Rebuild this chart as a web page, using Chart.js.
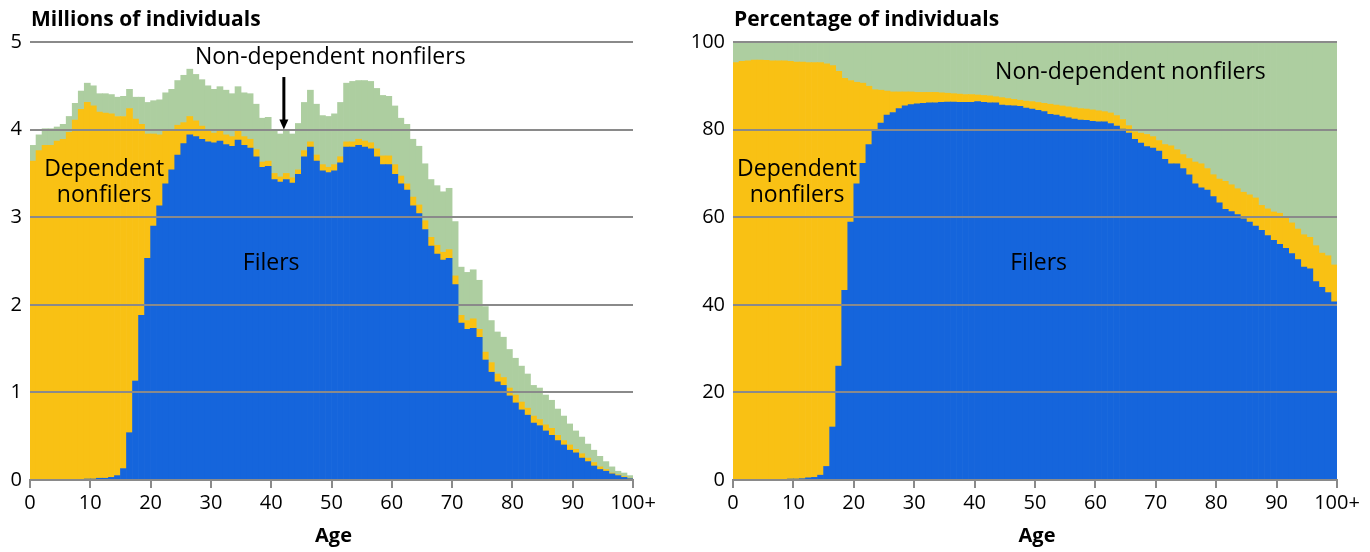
<!DOCTYPE html>
<html>
<head>
<meta charset="utf-8">
<script src="https://cdn.jsdelivr.net/npm/chart.js@4"></script>
<style>
  body { margin: 0; background: #fff; }
  canvas { position: absolute; top: 0; }
  #countChart { left: 0; }
  #shareChart { left: 680px; }
</style>
</head>
<body>
<canvas id="countChart" width="660" height="552"></canvas>
<canvas id="shareChart" width="690" height="552"></canvas>
<script>
// ages 0..99 (last tick is labelled 100+)
var ages = [0,1,2,3,4,5,6,7,8,9,10,11,12,13,14,15,16,17,18,19,20,21,22,23,24,25,26,27,28,29,
    30,31,32,33,34,35,36,37,38,39,40,41,42,43,44,45,46,47,48,49,50,51,52,53,54,55,56,57,58,59,
    60,61,62,63,64,65,66,67,68,69,70,71,72,73,74,75,76,77,78,79,80,81,82,83,84,85,86,87,88,89,
    90,91,92,93,94,95,96,97,98,99];
var xTickLabels = ['0', '10', '20', '30', '40', '50', '60', '70', '80', '90', '100+'];

// millions of individuals
var filers = [0,0,0,0,0,0,0,0,0,0.01,0.01,0.02,0.02,0.03,0.05,0.13,0.54,1.13,1.88,2.53,
    2.90,3.13,3.38,3.54,3.71,3.84,3.94,3.92,3.89,3.86,3.85,3.87,3.83,3.81,3.88,3.82,3.79,3.69,3.57,3.58,
    3.43,3.40,3.43,3.39,3.49,3.69,3.80,3.64,3.53,3.51,3.53,3.62,3.80,3.80,3.82,3.80,3.78,3.69,3.60,3.60,
    3.49,3.38,3.31,3.13,3.04,2.86,2.67,2.58,2.51,2.53,2.23,1.79,1.72,1.73,1.63,1.37,1.23,1.12,1.08,0.96,
    0.88,0.80,0.74,0.65,0.62,0.56,0.51,0.45,0.40,0.34,0.31,0.25,0.21,0.16,0.12,0.10,0.07,0.05,0.03,0.015];
var dependents = [3.64,3.76,3.82,3.82,3.87,3.89,3.97,4.11,4.23,4.30,4.26,4.18,4.17,4.15,4.10,4.02,3.70,2.99,2.18,1.42,
    1.05,0.81,0.60,0.44,0.34,0.24,0.21,0.18,0.15,0.12,0.11,0.11,0.11,0.11,0.10,0.10,0.10,0.08,0.06,0.06,
    0.07,0.06,0.07,0.06,0.05,0.07,0.06,0.07,0.07,0.06,0.07,0.07,0.06,0.06,0.07,0.07,0.07,0.09,0.10,0.10,
    0.11,0.09,0.07,0.10,0.10,0.10,0.10,0.10,0.09,0.10,0.10,0.09,0.10,0.11,0.09,0.09,0.11,0.09,0.09,0.09,
    0.09,0.09,0.08,0.08,0.07,0.07,0.08,0.06,0.05,0.06,0.04,0.05,0.04,0.04,0.03,0.02,0.01,0.01,0.01,0.005];
var nondependents = [0.18,0.18,0.19,0.19,0.16,0.17,0.18,0.19,0.21,0.22,0.23,0.21,0.22,0.22,0.22,0.23,0.22,0.25,0.31,0.36,
    0.38,0.40,0.44,0.48,0.51,0.54,0.54,0.53,0.53,0.52,0.50,0.51,0.51,0.49,0.51,0.50,0.52,0.52,0.50,0.50,
    0.49,0.49,0.48,0.50,0.53,0.55,0.59,0.58,0.56,0.58,0.58,0.62,0.67,0.69,0.67,0.69,0.70,0.69,0.69,0.68,
    0.67,0.66,0.68,0.66,0.67,0.65,0.66,0.68,0.69,0.70,0.62,0.55,0.55,0.56,0.56,0.52,0.48,0.48,0.46,0.44,
    0.42,0.41,0.39,0.35,0.36,0.34,0.32,0.30,0.28,0.24,0.21,0.19,0.16,0.14,0.12,0.09,0.07,0.04,0.04,0.03];

// percentage of individuals
var filersPct = [0,0,0,0,0,0,0,0,0,0.2,0.2,0.3,0.5,0.6,1.1,3.1,12.1,26.0,43.3,58.9,
    67.6,72.3,76.6,79.7,81.5,83.3,83.9,84.8,85.4,85.7,85.9,86.0,86.1,86.1,86.2,86.3,86.3,86.2,86.2,86.2,
    86.4,86.2,86.1,86.1,85.6,85.5,85.4,85.3,84.9,84.7,84.4,84.1,83.5,83.3,83.0,82.7,82.4,82.2,82.1,81.9,
    81.8,81.8,81.4,80.8,80.1,79.2,77.8,76.9,76.1,75.8,75.1,73.2,72.2,72.2,71.1,69.7,67.6,66.7,66.2,64.7,
    63.3,61.8,61.3,60.6,59.6,58.9,58.0,57.0,55.8,54.7,53.8,52.9,51.7,50.3,48.6,48.2,45.3,44.0,42.8,40.7];
var dependentsPct = [95.3,95.6,95.7,95.9,95.9,95.8,95.7,95.7,95.7,95.4,95.2,95.1,94.8,94.7,94.2,91.9,82.5,67.3,48.4,32.3,
    23.2,18.3,13.3,9.4,7.5,5.5,4.7,3.8,3.2,2.9,2.6,2.5,2.4,2.4,2.2,2.0,1.9,1.9,1.8,1.8,
    1.5,1.6,1.6,1.4,1.7,1.6,1.5,1.4,1.6,1.7,1.8,1.9,2.3,2.3,2.4,2.5,2.6,2.6,2.6,2.6,
    2.5,2.3,2.4,2.4,2.2,1.7,1.7,2.3,2.8,2.6,2.4,3.4,4.1,3.2,3.2,3.7,5.0,5.5,4.9,5.0,
    5.4,6.4,6.1,5.9,6.1,6.2,6.4,5.7,6.1,6.5,7.1,6.9,7.0,7.0,7.4,7.2,8.2,7.8,8.4,8.4];
var nondependentsPct = [4.7,4.4,4.3,4.1,4.1,4.2,4.3,4.3,4.3,4.4,4.6,4.6,4.7,4.7,4.7,5.0,5.4,6.7,8.3,8.8,
    9.2,9.4,10.1,10.9,11.0,11.2,11.4,11.4,11.4,11.4,11.5,11.5,11.5,11.5,11.6,11.7,11.8,11.9,12.0,12.0,
    12.1,12.2,12.3,12.5,12.7,12.9,13.1,13.3,13.5,13.6,13.8,14.0,14.2,14.4,14.6,14.8,15.0,15.2,15.3,15.5,
    15.7,15.9,16.2,16.8,17.7,19.1,20.5,20.8,21.1,21.6,22.5,23.4,23.7,24.6,25.7,26.6,27.4,27.8,28.9,30.3,
    31.3,31.8,32.6,33.5,34.3,34.9,35.6,37.3,38.1,38.8,39.1,40.2,41.3,42.7,44.0,44.6,46.5,48.2,48.8,50.9];

var colors = { filers: '#1565dc', dependents: '#f9c114', nondependents: '#adcea0' };
var gridColor = '#8a8a8a';
var fontFamily = '"Open Sans", sans-serif';

// bars sit between age ticks, so put each one at age + 0.5
function toPoints(values) {
    return ages.map(function (a, i) { return { x: a + 0.5, y: values[i] }; });
}

// titles, axis name, in-chart labels and arrow
var annotate = {
    id: 'annotate',
    afterDraw: function (chart, args, opts) {
        var ctx = chart.ctx, xs = chart.scales.x, ys = chart.scales.y;
        ctx.save();
        ctx.fillStyle = '#000';
        ctx.textBaseline = 'alphabetic';
        ctx.textAlign = 'left';
        ctx.font = 'bold 21px ' + fontFamily;
        ctx.fillText(opts.title, xs.left + 1, 26);
        ctx.textAlign = 'center';
        ctx.textBaseline = 'middle';
        ctx.font = 'bold 20px ' + fontFamily;
        ctx.fillText('Age', (xs.left + xs.right) / 2 + 2, 536);
        ctx.font = '23px ' + fontFamily;
        opts.labels.forEach(function (l) {
            ctx.fillText(l.text, xs.getPixelForValue(l.x), ys.getPixelForValue(l.y));
        });
        if (opts.arrow) {
            var ax = xs.getPixelForValue(opts.arrow.x);
            var y0 = ys.getPixelForValue(opts.arrow.from), y1 = ys.getPixelForValue(opts.arrow.to);
            ctx.strokeStyle = '#000';
            ctx.lineWidth = 3;
            ctx.beginPath();
            ctx.moveTo(ax, y0);
            ctx.lineTo(ax, y1 - 8);
            ctx.stroke();
            ctx.beginPath();
            ctx.moveTo(ax - 4.5, y1 - 10);
            ctx.lineTo(ax + 4.5, y1 - 10);
            ctx.lineTo(ax, y1);
            ctx.closePath();
            ctx.fill();
        }
        ctx.restore();
    }
};

function makeChart(id, series, yMax, yStep, axisWidth, padRight, opts) {
    var ctx = document.getElementById(id).getContext('2d');
    return new Chart(ctx, {
        type: 'bar',
        data: {
            datasets: [
                { label: 'Filers', data: toPoints(series[0]), backgroundColor: colors.filers },
                { label: 'Dependent nonfilers', data: toPoints(series[1]), backgroundColor: colors.dependents },
                { label: 'Non-dependent nonfilers', data: toPoints(series[2]), backgroundColor: colors.nondependents }
            ]
        },
        options: {
            responsive: false,
            animation: false,
            devicePixelRatio: 1,
            layout: { padding: { top: 42, right: padRight, bottom: 0, left: 0 } },
            datasets: { bar: { barPercentage: 1, categoryPercentage: 1, borderWidth: 0 } },
            scales: {
                x: {
                    type: 'linear',
                    stacked: true,
                    offset: false,
                    min: 0,
                    max: 100,
                    afterFit: function (s) { s.height = 72; },
                    ticks: {
                        stepSize: 10,
                        padding: 3,
                        color: '#000',
                        font: { family: fontFamily, size: 20 },
                        maxRotation: 0,
                        callback: function (v) { return xTickLabels[v / 10]; }
                    },
                    grid: { offset: false, drawOnChartArea: false, color: gridColor, lineWidth: 2, tickLength: 8, z: 1 },
                    border: { display: true, color: gridColor, width: 2, z: 1 }
                },
                y: {
                    stacked: true,
                    min: 0,
                    max: yMax,
                    afterFit: function (s) { s.width = axisWidth; },
                    ticks: {
                        stepSize: yStep,
                        padding: 8,
                        color: '#000',
                        font: { family: fontFamily, size: 20 }
                    },
                    grid: { color: gridColor, lineWidth: 2, drawTicks: false, z: 1 },
                    border: { display: false }
                }
            },
            plugins: {
                legend: { display: false },
                tooltip: { enabled: false },
                annotate: opts
            }
        },
        plugins: [annotate]
    });
}

makeChart('countChart', [filers, dependents, nondependents], 5, 1, 30, 27, {
    title: 'Millions of individuals',
    labels: [
        { text: 'Non-dependent nonfilers', x: 49.8, y: 4.82 },
        { text: 'Dependent', x: 12.3, y: 3.54 },
        { text: 'nonfilers', x: 12.3, y: 3.25 },
        { text: 'Filers', x: 40, y: 2.47 }
    ],
    arrow: { x: 42.1, from: 4.6, to: 4.0 }
});

makeChart('shareChart', [filersPct, dependentsPct, nondependentsPct], 100, 20, 53, 33, {
    title: 'Percentage of individuals',
    labels: [
        { text: 'Non-dependent nonfilers', x: 65.8, y: 93.1 },
        { text: 'Dependent', x: 10.6, y: 70.9 },
        { text: 'nonfilers', x: 10.6, y: 65.0 },
        { text: 'Filers', x: 50.6, y: 49.5 }
    ]
});
</script>
</body>
</html>
